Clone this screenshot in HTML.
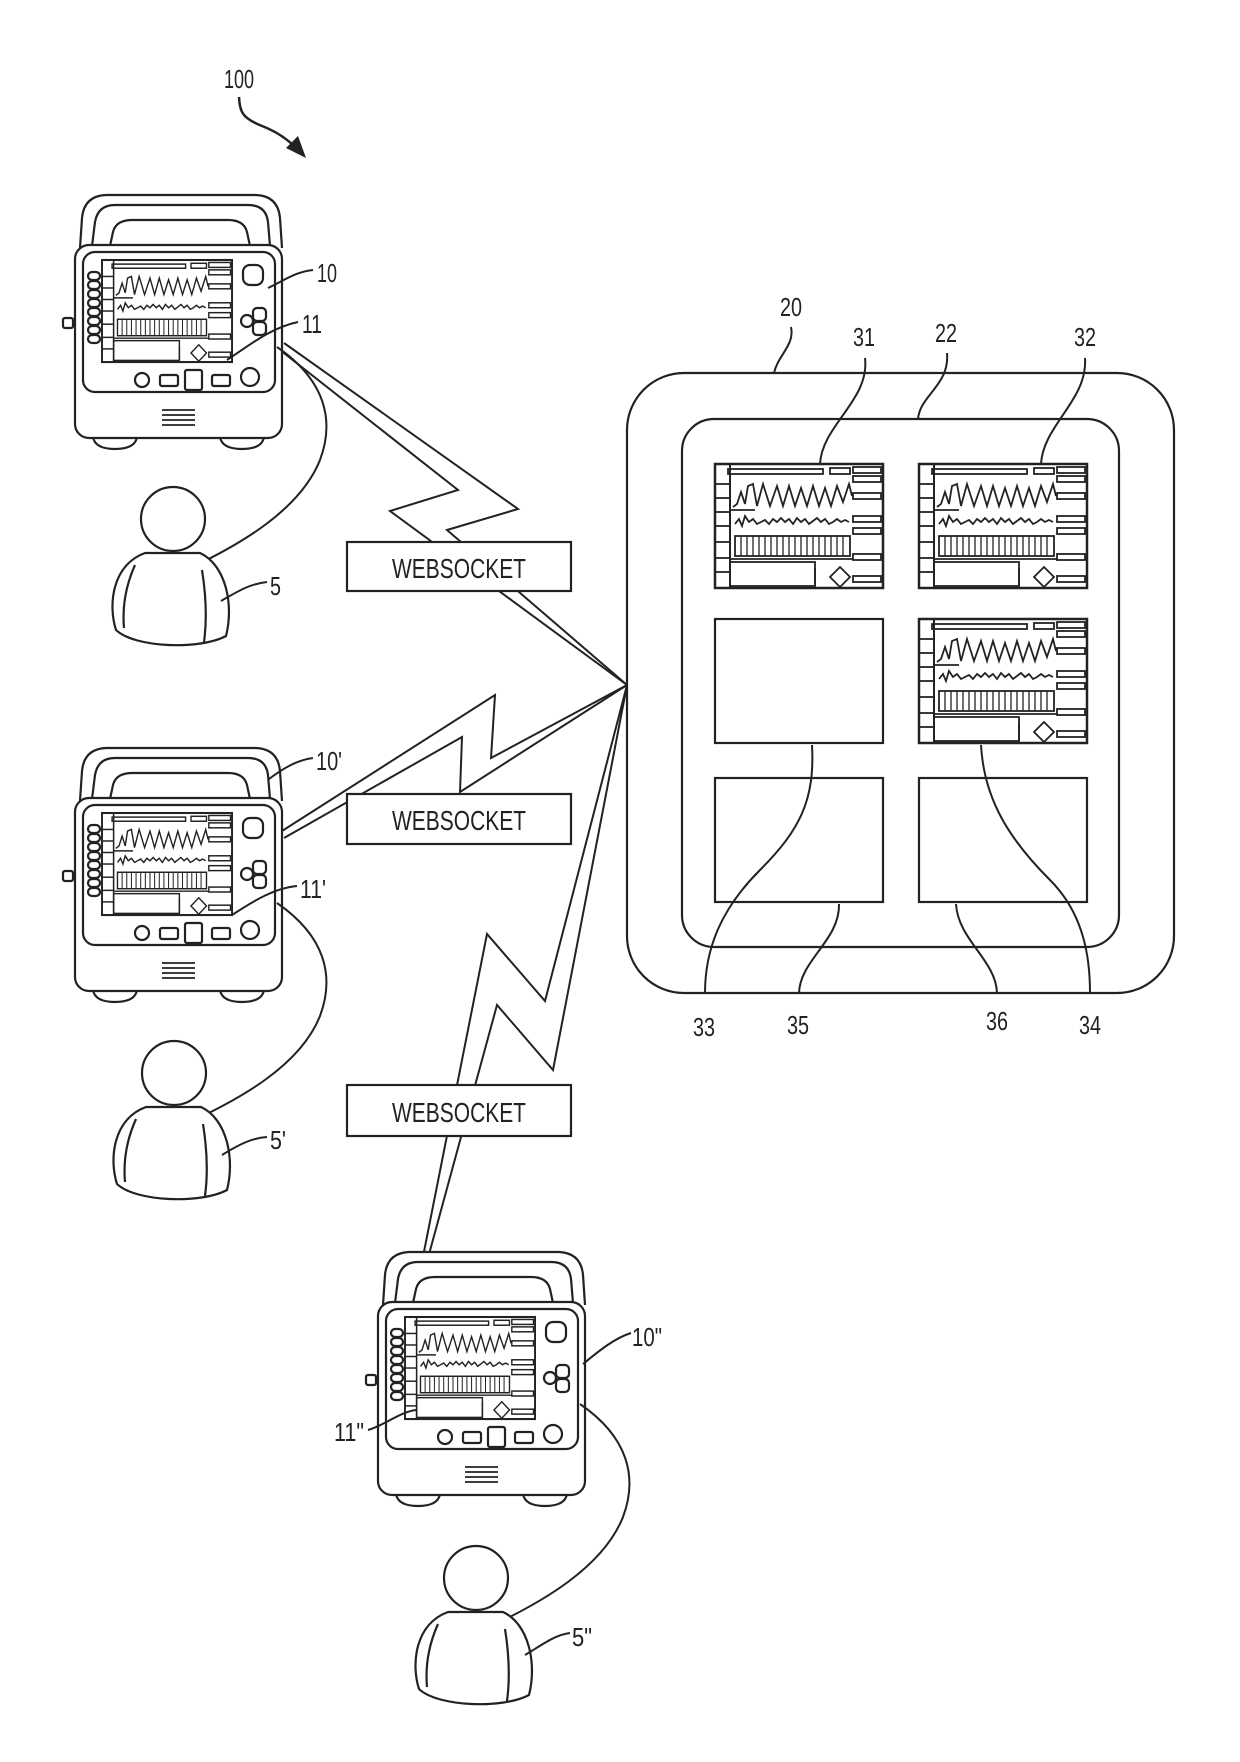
<!DOCTYPE html>
<html><head><meta charset="utf-8"><style>
html,body{margin:0;padding:0;background:#fff;}
svg{display:block;}
text{font-family:"Liberation Sans",sans-serif;fill:#222;}
</style></head><body>
<svg width="1240" height="1762" viewBox="0 0 1240 1762" xmlns="http://www.w3.org/2000/svg">
<defs>
<g id="scr">
 <rect x="0" y="0" width="168" height="124" fill="#fff" stroke="#222" stroke-width="2.5"/>
 <line x1="15" y1="0" x2="15" y2="124" stroke="#222" stroke-width="2"/>
 <g fill="none" stroke="#222" stroke-width="1.8">
 <line x1="0" y1="20" x2="15" y2="20"/><line x1="0" y1="34" x2="15" y2="34"/><line x1="0" y1="48" x2="15" y2="48"/><line x1="0" y1="62" x2="15" y2="62"/><line x1="0" y1="78" x2="15" y2="78"/><line x1="0" y1="94" x2="15" y2="94"/><line x1="0" y1="108" x2="15" y2="108"/>
 <rect x="13" y="5" width="95" height="5"/>
 <rect x="115" y="4" width="20" height="6"/>
 <rect x="138" y="3" width="28" height="6"/><rect x="138" y="12" width="28" height="6"/>
 <rect x="138" y="29" width="28" height="6"/>
 <rect x="138" y="52" width="28" height="6"/><rect x="138" y="64" width="28" height="6"/>
 <rect x="138" y="90" width="28" height="6"/><rect x="138" y="112" width="28" height="6"/>
 <polyline points="18,43 22,40 26,28 30,40 33,22 38,20 42,42 48,20 55,42 62,22 68,42 74,22 80,42 86,24 92,42 98,22 104,42 110,24 116,42 122,22 128,38 134,20 137,32"/>
 <polyline points="20,60 24,55 27,62 30,52 34,58 38,55 42,60 46,58 50,56 54,60 58,55 62,58 66,54 70,58 74,55 78,60 82,54 86,58 90,55 94,60 98,57 102,54 106,58 110,55 114,60 118,58 122,55 126,58 130,56 134,58"/>
 <line x1="15" y1="46" x2="40" y2="46"/>
 <line x1="15" y1="95" x2="138" y2="95"/>
 <rect x="15" y="98" width="85" height="24"/>
 <line x1="100" y1="104" x2="100" y2="122"/>
 <polygon points="125,103 135,113 125,123 115,113"/>
 </g>
 <rect x="20" y="72" width="115" height="20" fill="none" stroke="#222" stroke-width="1.8"/>
 <g stroke="#222" stroke-width="1.3">
 <line x1="26" y1="72" x2="26" y2="92"/><line x1="32" y1="72" x2="32" y2="92"/><line x1="38" y1="72" x2="38" y2="92"/><line x1="44" y1="72" x2="44" y2="92"/><line x1="50" y1="72" x2="50" y2="92"/><line x1="56" y1="72" x2="56" y2="92"/><line x1="62" y1="72" x2="62" y2="92"/><line x1="68" y1="72" x2="68" y2="92"/><line x1="74" y1="72" x2="74" y2="92"/><line x1="80" y1="72" x2="80" y2="92"/><line x1="86" y1="72" x2="86" y2="92"/><line x1="92" y1="72" x2="92" y2="92"/><line x1="98" y1="72" x2="98" y2="92"/><line x1="104" y1="72" x2="104" y2="92"/><line x1="110" y1="72" x2="110" y2="92"/><line x1="116" y1="72" x2="116" y2="92"/><line x1="122" y1="72" x2="122" y2="92"/><line x1="128" y1="72" x2="128" y2="92"/>
 </g>
</g>
<g id="dev" fill="#fff" stroke="#222" stroke-width="2.2">
 <path d="M80,248 L82,218 Q84,196 106,195 L256,195 Q278,196 280,218 L282,248"/>
 <path d="M92,246 L95,222 Q98,205 115,205 L248,205 Q266,205 268,222 L270,246" fill="none"/>
 <path d="M110,246 L113,232 Q116,220 132,220 L228,220 Q244,220 247,232 L250,246" fill="none"/>
 <path d="M93,437 Q95,449 115,449 Q135,449 137,437 Z"/>
 <path d="M220,437 Q222,449 242,449 Q262,449 264,437 Z"/>
 <rect x="75" y="245" width="207" height="193" rx="14"/>
 <rect x="63" y="318" width="10" height="10" rx="2"/>
 <rect x="83" y="252" width="192" height="140" rx="12"/>
 <g fill="#fff">
 <rect x="88" y="272" width="12" height="8" rx="4"/><rect x="88" y="281" width="12" height="8" rx="4"/><rect x="88" y="290" width="12" height="8" rx="4"/><rect x="88" y="299" width="12" height="8" rx="4"/><rect x="88" y="308" width="12" height="8" rx="4"/><rect x="88" y="317" width="12" height="8" rx="4"/><rect x="88" y="326" width="12" height="8" rx="4"/><rect x="88" y="335" width="12" height="8" rx="4"/>
 </g>
 <rect x="243" y="265" width="20" height="20" rx="7"/>
 <circle cx="247" cy="321" r="6"/>
 <rect x="253" y="308" width="13" height="13" rx="4"/><rect x="253" y="322" width="13" height="13" rx="4"/>
 <circle cx="142" cy="380" r="7"/>
 <rect x="160" y="375" width="18" height="11" rx="2"/>
 <rect x="185" y="370" width="17" height="20" rx="2"/>
 <rect x="212" y="375" width="18" height="11" rx="2"/>
 <circle cx="250" cy="377" r="9"/>
 <g stroke-width="1.8"><line x1="162" y1="410" x2="195" y2="410"/><line x1="162" y1="415" x2="195" y2="415"/><line x1="162" y1="420" x2="195" y2="420"/><line x1="162" y1="425" x2="195" y2="425"/></g>
 <g transform="translate(102,260) scale(0.774,0.823)"><use href="#scr"/></g>
</g>
<g id="per" fill="#fff" stroke="#222" stroke-width="2.2">
 <path d="M145,553 C112,565 108,605 116,630 C135,648 200,650 226,636 C234,605 226,565 200,553 Z"/>
 <path d="M135,565 C126,585 122,605 124,628" fill="none"/>
 <path d="M202,570 C206,595 207,620 204,642" fill="none"/>
 <circle cx="173" cy="519" r="32"/>
</g>
</defs>

<!-- 100 -->
<text x="224" y="88" font-size="26" textLength="30" lengthAdjust="spacingAndGlyphs">100</text>
<path d="M239,97 C240,112 242,118 262,126 C275,131 285,137 295,147" fill="none" stroke="#222" stroke-width="2.5"/>
<polygon points="306,158 286,148 298,136" fill="#222"/>

<!-- lightning bolts -->
<g fill="none" stroke="#222" stroke-width="2">
 <polyline points="284,343 518,509 447,530 627,685"/>
 <polyline points="280,350 458,490 390,511 627,685"/>
 <polyline points="282,831 495,695 491,758 627,685"/>
 <polyline points="284,838 462,737 460,792 627,685"/>
 <polyline points="627,685 545,1001 487,934 416,1292"/>
 <polyline points="627,685 553,1070 497,1005 428,1258"/>
</g>

<!-- websocket boxes -->
<g fill="#fff" stroke="#222" stroke-width="2.2">
 <rect x="347" y="542" width="224" height="49"/>
 <rect x="347" y="794" width="224" height="50"/>
 <rect x="347" y="1085" width="224" height="51"/>
</g>
<g font-size="28">
 <text x="392" y="578" textLength="134" lengthAdjust="spacingAndGlyphs">WEBSOCKET</text>
 <text x="392" y="830" textLength="134" lengthAdjust="spacingAndGlyphs">WEBSOCKET</text>
 <text x="392" y="1122" textLength="134" lengthAdjust="spacingAndGlyphs">WEBSOCKET</text>
</g>

<!-- devices -->
<use href="#dev"/>
<use href="#dev" transform="translate(0,553)"/>
<use href="#dev" transform="translate(303,1057)"/>

<!-- cables -->
<g fill="none" stroke="#222" stroke-width="2">
 <path d="M277,347 C325,380 335,420 320,460 C300,510 240,545 186,570"/>
 <path d="M277,903 C325,936 335,976 320,1016 C300,1066 240,1099 186,1124"/>
 <path d="M580,1404 C628,1437 638,1477 623,1517 C603,1567 543,1602 489,1627"/>
</g>

<!-- persons -->
<use href="#per"/>
<use href="#per" transform="translate(1,554)"/>
<use href="#per" transform="translate(303,1059)"/>

<!-- tablet -->
<rect x="627" y="373" width="547" height="620" rx="57" fill="none" stroke="#222" stroke-width="2.2"/>
<rect x="682" y="419" width="437" height="528" rx="32" fill="none" stroke="#222" stroke-width="2.2"/>
<g transform="translate(715,464)"><use href="#scr"/></g>
<g transform="translate(919,464)"><use href="#scr"/></g>
<g transform="translate(919,619)"><use href="#scr"/></g>
<g fill="#fff" stroke="#222" stroke-width="2.2">
 <rect x="715" y="619" width="168" height="124"/>
 <rect x="715" y="778" width="168" height="124"/>
 <rect x="919" y="778" width="168" height="124"/>
</g>

<!-- leaders -->
<g fill="none" stroke="#222" stroke-width="2">
 <path d="M268,288 C285,280 295,272 313,270"/>
 <path d="M227,360 C250,345 270,328 298,322"/>
 <path d="M269,779 C285,767 298,760 313,758"/>
 <path d="M232,915 C255,900 275,888 297,886"/>
 <path d="M583,1364 C600,1350 615,1338 631,1333"/>
 <path d="M368,1430 C385,1425 400,1412 416,1410"/>
 <path d="M221,601 C240,590 250,584 267,582"/>
 <path d="M222,1155 C240,1144 252,1138 267,1137"/>
 <path d="M525,1655 C545,1643 555,1635 570,1633"/>
 <path d="M791,327 C795,345 778,355 774,373"/>
 <path d="M865,358 C870,400 822,425 820,464"/>
 <path d="M947,353 C950,385 920,395 918,419"/>
 <path d="M1085,358 C1088,400 1043,425 1041,464"/>
 <path d="M812,745 C815,800 800,830 760,870 C720,910 705,950 705,993"/>
 <path d="M839,904 C840,940 800,960 799,993"/>
 <path d="M956,904 C958,940 996,960 997,993"/>
 <path d="M981,745 C984,800 1010,840 1050,880 C1085,915 1090,960 1090,993"/>
</g>

<!-- labels -->
<g font-size="26">
 <text x="317" y="282" textLength="20" lengthAdjust="spacingAndGlyphs">10</text>
 <text x="302" y="333" textLength="20" lengthAdjust="spacingAndGlyphs">11</text>
 <text x="316" y="770" textLength="26" lengthAdjust="spacingAndGlyphs">10'</text>
 <text x="300" y="898" textLength="26" lengthAdjust="spacingAndGlyphs">11'</text>
 <text x="632" y="1346" textLength="30" lengthAdjust="spacingAndGlyphs">10"</text>
 <text x="334" y="1441" textLength="30" lengthAdjust="spacingAndGlyphs">11"</text>
 <text x="270" y="595" textLength="11" lengthAdjust="spacingAndGlyphs">5</text>
 <text x="270" y="1149" textLength="16" lengthAdjust="spacingAndGlyphs">5'</text>
 <text x="572" y="1646" textLength="20" lengthAdjust="spacingAndGlyphs">5"</text>
 <text x="780" y="316" textLength="22" lengthAdjust="spacingAndGlyphs">20</text>
 <text x="853" y="346" textLength="22" lengthAdjust="spacingAndGlyphs">31</text>
 <text x="935" y="342" textLength="22" lengthAdjust="spacingAndGlyphs">22</text>
 <text x="1074" y="346" textLength="22" lengthAdjust="spacingAndGlyphs">32</text>
 <text x="693" y="1036" textLength="22" lengthAdjust="spacingAndGlyphs">33</text>
 <text x="787" y="1034" textLength="22" lengthAdjust="spacingAndGlyphs">35</text>
 <text x="986" y="1030" textLength="22" lengthAdjust="spacingAndGlyphs">36</text>
 <text x="1079" y="1034" textLength="22" lengthAdjust="spacingAndGlyphs">34</text>
</g>
</svg>
</body></html>
